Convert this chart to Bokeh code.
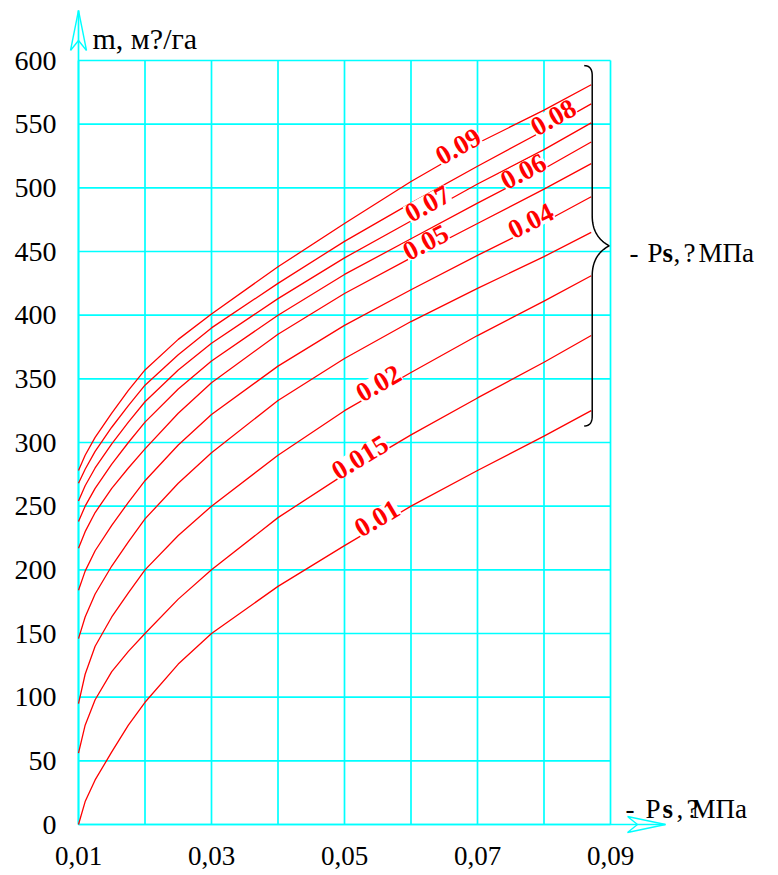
import numpy as np
from bokeh.plotting import figure
from bokeh.models import Range1d, FixedTicker, CustomJSTickFormatter, Label
from bokeh.embed import file_html
from bokeh.resources import INLINE

# ---------------- data ----------------
x_pts = [0.01, 0.011, 0.0125, 0.015, 0.0175, 0.02, 0.025, 0.03, 0.04, 0.05, 0.06, 0.07, 0.08, 0.0871]

m_ps_001 = [0, 18, 35, 57, 78, 96, 126, 150, 187, 219, 250, 278, 305, 325]
m_ps_0015 = [56, 78, 98, 120, 136, 150, 177, 200, 241, 275, 306, 335, 363, 384]
m_ps_002 = [95, 118, 140, 163, 182, 200, 227, 250, 290, 325, 355, 384, 411, 431]
m_ps_003 = [146, 163, 181, 203, 222, 240, 268, 292, 333, 366, 395, 421, 446, 465]
m_ps_004 = [184, 199, 215, 235, 253, 270, 298, 322, 360, 392, 420, 447, 473, 493]
m_ps_005 = [217, 230, 245, 264, 280, 295, 323, 347, 385, 417, 445, 472, 499, 519]
m_ps_006 = [238, 250, 264, 283, 300, 316, 342, 364, 400, 432, 460, 488, 515, 536]
m_ps_007 = [254, 266, 280, 299, 316, 332, 357, 378, 413, 445, 474, 503, 530, 551]
m_ps_008 = [268, 279, 293, 312, 329, 345, 369, 390, 425, 458, 488, 517, 545, 566]
m_ps_009 = [278, 290, 304, 323, 341, 357, 381, 401, 438, 472, 505, 535, 561, 581]

series = [m_ps_001, m_ps_0015, m_ps_002, m_ps_003, m_ps_004,
          m_ps_005, m_ps_006, m_ps_007, m_ps_008, m_ps_009]
curve_labels = ["0.01", "0.015", "0.02", "", "0.04", "0.05", "0.06", "0.07", "0.08", "0.09"]

y_ticks = [0, 50, 100, 150, 200, 250, 300, 350, 400, 450, 500, 550, 600]
x_ticks = [0.01, 0.03, 0.05, 0.07, 0.09]
x_grid = [0.01, 0.02, 0.03, 0.04, 0.05, 0.06, 0.07, 0.08, 0.09]

y_title = "m, м?/га"
unit_parts = ["-", "P", "s", ",", "?", "МПа"]

# ---------------- layout / style ----------------
SX = 6650.0      # px per unit of Ps
SY = 1.2733      # px per unit of m
X0_PX, Y0_PX = 78, 824
L, T, H = 66, 3, 833
W = 778 - L
x_start = 0.01 - (X0_PX - L) / SX
x_end = x_start + W / SX
y_end = (Y0_PX - T) / SY
y_start = y_end - H / SY

CYAN = "#00FFFF"
SERIF = "Liberation Serif"

label_at_x = [0.0549, 0.0523, 0.0551, None, 0.0780, 0.0622, 0.0769, 0.0625, 0.0814, 0.0671]

p = figure(frame_width=W, frame_height=H,
           min_border_left=L, min_border_right=0,
           min_border_top=T, min_border_bottom=875 - T - H,
           x_range=Range1d(x_start, x_end), y_range=Range1d(y_start, y_end),
           output_backend="svg", toolbar_location=None)
p.outline_line_color = None
p.xgrid.visible = False
p.ygrid.visible = False
p.background_fill_color = "white"
p.border_fill_color = "white"

# axes: only labels
for ax in (p.xaxis[0], p.yaxis[0]):
    ax.axis_line_color = None
    ax.major_tick_line_color = None
    ax.minor_tick_line_color = None
    ax.major_label_text_font = SERIF
    ax.major_label_text_color = "black"
p.yaxis[0].ticker = FixedTicker(ticks=y_ticks)
p.yaxis[0].major_label_text_font_size = "28px"
p.yaxis[0].major_label_standoff = 4
p.xaxis[0].ticker = FixedTicker(ticks=x_ticks)
p.xaxis[0].formatter = CustomJSTickFormatter(code="return tick.toFixed(2).replace('.', ',');")
p.xaxis[0].major_label_text_font_size = "27px"
p.xaxis[0].major_label_standoff = 4

# grid
p.segment(x0=x_grid, y0=[y_ticks[0]] * len(x_grid), x1=x_grid, y1=[y_ticks[-1]] * len(x_grid),
          line_color=CYAN, line_width=1.7)
p.segment(x0=[x_grid[0]] * len(y_ticks), y0=y_ticks, x1=[x_grid[-1]] * len(y_ticks), y1=y_ticks,
          line_color=CYAN, line_width=1.7)

# axis arrows
y_tip = (Y0_PX - 10) / SY
x_tip = 0.01 + (665 - X0_PX) / SX
p.line([x_grid[0], x_grid[0]], [0, y_tip], line_color=CYAN, line_width=1.7)
p.line([x_grid[0], x_tip], [0, 0], line_color=CYAN, line_width=1.7)
hx, hl, hn = 8 / SX, 40 / SY, 30 / SY
p.line([x_grid[0] - hx, x_grid[0], x_grid[0] + hx, x_grid[0], x_grid[0] - hx],
       [y_tip - hl, y_tip, y_tip - hl, y_tip - hn, y_tip - hl], line_color=CYAN, line_width=1.4)
vy, vl, vn = 8 / SY, 38 / SX, 28 / SX
p.line([x_tip - vl, x_tip, x_tip - vl, x_tip - vn, x_tip - vl],
       [vy, 0, -vy, 0, vy], line_color=CYAN, line_width=1.4)

# curves
for m in series:
    p.line(x_pts, m, line_color="red", line_width=1.3)

# curve labels (sit just above their curve, hiding it)
for m, txt, lx in zip(series, curve_labels, label_at_x):
    if not txt:
        continue
    ly = float(np.interp(lx, x_pts, m))
    h = 0.004
    slope = (np.interp(lx + h, x_pts, m) - np.interp(lx - h, x_pts, m)) / (2 * h)
    ang = float(np.arctan(slope * SY / SX))
    p.add_layout(Label(x=lx, y=ly, y_offset=8, text=txt, angle=ang, text_align="center",
                       text_baseline="middle", text_color="red", text_font=SERIF,
                       text_font_style="bold", text_font_size="27px",
                       background_fill_color="white", background_fill_alpha=1.0))

# brace on the right
ends = [m[-1] for m in series]
top, bot = max(ends) + 15, min(ends) - 12
mid = (top + bot) / 2
xl = x_pts[-1] + 1 / SX
cdx, cdy = 8 / SX, 10 / SY
tdx, tdy = 17 / SX, 30 / SY


def quad(p0, p1, p2, n=24):
    t = np.linspace(0, 1, n)[:, None]
    a, b, c = np.array(p0), np.array(p1), np.array(p2)
    return (1 - t) ** 2 * a + 2 * (1 - t) * t * b + t ** 2 * c


parts = [quad((xl - cdx, top), (xl, top), (xl, top - cdy)),
         quad((xl, mid + tdy), (xl, mid + 0.3 * tdy), (xl + tdx, mid)),
         quad((xl + tdx, mid), (xl, mid - 0.3 * tdy), (xl, mid - tdy)),
         quad((xl, bot + cdy), (xl, bot), (xl - cdx, bot))]
pts = np.vstack(parts)
p.line(pts[:, 0], pts[:, 1], line_color="black", line_width=1.5)

# texts
p.add_layout(Label(x=0.01 + (92 - X0_PX) / SX, y=(Y0_PX - 38) / SY, text=y_title,
                   text_font=SERIF, text_font_size="30px", text_color="black",
                   text_baseline="alphabetic"))


def unit_label(x_px, base_px, offsets, size):
    for txt, off in zip(unit_parts, offsets):
        p.add_layout(Label(x=0.01 + (x_px - X0_PX) / SX, y=(Y0_PX - base_px) / SY,
                           x_offset=off, text=txt, text_font=SERIF, text_font_size=size,
                           text_font_style="bold" if txt == "s" else "normal",
                           text_color="black", text_baseline="alphabetic"))


unit_label(629, 252, [0, 18, 33, 44, 54, 69], "27px")
unit_label(625, 808, [0, 20, 37, 51, 61, 66], "27px")

open("out.html", "w").write(file_html(p, INLINE))
